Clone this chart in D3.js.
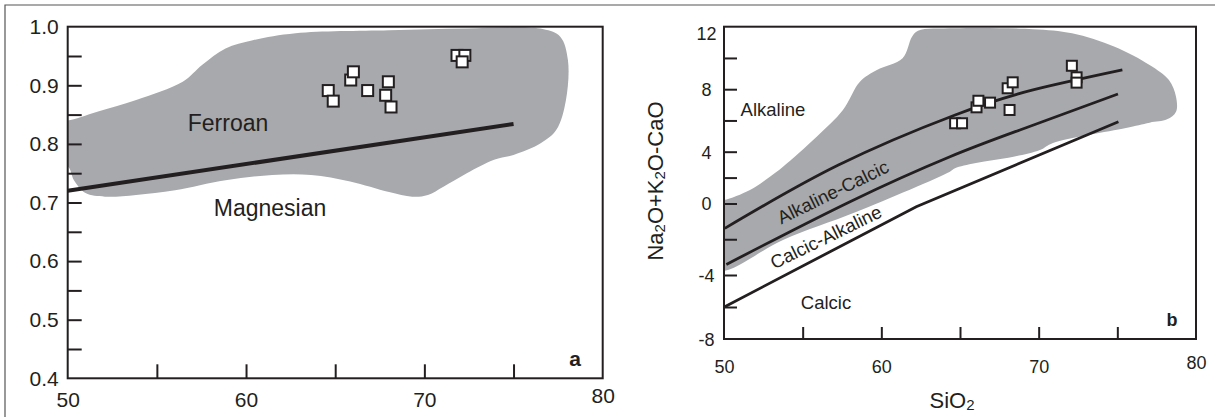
<!DOCTYPE html>
<html>
<head>
<meta charset="utf-8">
<script src="https://cdn.jsdelivr.net/npm/d3@7"></script>
<style>
    body { margin: 0; background: #fff; }
    svg { display: block; font-family: "Liberation Sans", Arial, sans-serif; }
</style>
</head>
<body>
<script>

// ---- panel a : FeO/(FeO+MgO) vs SiO2 ----
var xTicksA = [55, 60, 65, 70, 75];
var xLabelsA = [50, 60, 70, 80];
var yTicksA = [0.45, 0.5, 0.55, 0.6, 0.65, 0.7, 0.75, 0.8, 0.85, 0.9, 0.95];
var yLabelsA = [0.4, 0.5, 0.6, 0.7, 0.8, 0.9, 1.0];

var fieldA = [ // grey field
    [49.5, 0.840], [50, 0.840], [51.66, 0.855], [53.84, 0.875], [56.45, 0.906],
    [57.55, 0.935], [58.85, 0.963], [60.38, 0.977], [62.78, 0.989], [68.02, 0.994],
    [72.38, 0.997], [76.64, 0.996], [77.62, 0.983], [78.05, 0.943], [77.94, 0.875],
    [77.40, 0.824], [76.52, 0.801], [75.0, 0.781], [73.91, 0.773], [72.38, 0.750],
    [71.07, 0.727], [70.2, 0.713], [69.32, 0.710], [68.02, 0.718], [65.84, 0.736],
    [63.65, 0.747], [61.47, 0.747], [58.85, 0.738], [56.02, 0.721], [53.84, 0.713],
    [52.09, 0.710], [51.0, 0.716], [50.35, 0.738], [50.02, 0.761], [49.5, 0.761]
];

var boundaryA = [[50, 0.720], [75, 0.834]]; // ferroan / magnesian

var samplesA = [
    [64.61, 0.891], [64.89, 0.873], [65.87, 0.909], [66.02, 0.923], [66.82, 0.891],
    [67.98, 0.906], [67.83, 0.883], [68.13, 0.863], [71.83, 0.951], [72.27, 0.951],
    [72.12, 0.940]
];

// ---- panel b : MALI vs SiO2 ----
var xTicksB = [55, 60, 65, 70, 75];
var xLabelsB = [50, 60, 70, 80];
var yTicksB = [-6, -4, -2, 0, 2, 4, 6, 8, 10];
var yLabelsB = [-8, -4, 0, 4, 8, 12];

var fieldB = [
    [49.5, 0.27], [50, 0.27], [51.65, 1.04], [52.92, 2.07], [53.75, 2.84],
    [55.89, 4.96], [57.56, 6.67], [58.64, 8.48], [59.72, 9.23], [61.35, 9.98],
    [61.95, 11.36], [62.33, 11.74], [64.68, 11.9], [69.64, 11.84], [72.12, 11.58],
    [74.83, 10.72], [77.05, 9.55], [78.28, 8.59], [78.73, 7.52], [78.73, 6.56],
    [78.16, 6.07], [77.05, 5.86], [75.55, 5.52], [70.91, 4.56], [70.08, 4.11],
    [68.40, 3.61], [67.16, 3.36], [65.93, 3.10], [64.68, 2.72], [64.36, 2.46],
    [58.43, -0.46], [53.75, -2.04], [50.25, -3.72], [49.5, -3.72]
];

var alkalicLine = [[50.05, -1.39], [57.27, 2.97], [64.69, 6.35], [69.64, 7.95], [75.32, 9.23]];
var calcAlkLine = [[50.15, -3.41], [58.01, 0.14], [64.36, 3.61], [68.81, 5.39], [75.04, 7.69]];
var calcicLine = [[50.05, -5.98], [62.22, -0.18], [75.07, 5.92]];

var samplesB = [
    [64.69, 5.82], [65.13, 5.82], [66.05, 6.84], [66.17, 7.26], [66.91, 7.14],
    [68.03, 8.06], [68.35, 8.44], [68.15, 6.67], [72.11, 9.50], [72.41, 8.76],
    [72.41, 8.42]
];

var ink = "#231f20";
var grey = "#a7a9ac";
var font = "'Liberation Sans', Arial, sans-serif";

var svg = d3.select("body")
    .append("svg")
    .attr("width", 1215)
    .attr("height", 417);

svg.append("rect")
    .attr("width", 1215)
    .attr("height", 417)
    .attr("fill", "#fff");

// figure border (only top and left are in the crop)
svg.append("path")
    .attr("d", "M5,417V5H1215")
    .attr("fill", "none")
    .attr("stroke", "#555")
    .attr("stroke-width", 1.2);

var xA = d3.scaleLinear().domain([50, 80]).range([67.7, 602.7]);
var yA = d3.scaleLinear().domain([0.4, 1.0]).range([378.3, 26.7]);
var xB = d3.scaleLinear().domain([50, 80]).range([724, 1196]);
// the printed y axis of b is not evenly spaced
var yB = d3.scaleLinear().domain([-8, -4, 0, 4, 12]).range([339, 275, 203.5, 151.7, 26.7]);

var defs = svg.append("defs");

var panel = function (id, x, y) {
    defs.append("clipPath")
        .attr("id", id)
        .append("rect")
        .attr("x", x.range()[0])
        .attr("y", y.range()[y.range().length - 1])
        .attr("width", x.range()[1] - x.range()[0])
        .attr("height", y.range()[0] - y.range()[y.range().length - 1]);
    return svg.append("g").attr("clip-path", "url(#" + id + ")");
};

var square = function (g, data, x, y, size) {
    g.selectAll("rect.sample")
        .data(data)
        .enter()
        .append("rect")
        .attr("class", "sample")
        .attr("x", function (d) { return x(d[0]) - size / 2; })
        .attr("y", function (d) { return y(d[1]) - size / 2; })
        .attr("width", size)
        .attr("height", size)
        .attr("fill", "#fff")
        .attr("stroke", ink)
        .attr("stroke-width", 2);
};

var frame = function (x, y) {
    var r = y.range();
    svg.append("rect")
        .attr("x", x.range()[0])
        .attr("y", r[r.length - 1])
        .attr("width", x.range()[1] - x.range()[0])
        .attr("height", r[0] - r[r.length - 1])
        .attr("fill", "none")
        .attr("stroke", ink)
        .attr("stroke-width", 2);
};

var styleAxis = function (g, size) {
    g.attr("font-family", font);
    g.select(".domain").remove();
    g.selectAll("line").attr("stroke", ink).attr("stroke-width", 2);
    g.selectAll("text")
        .attr("fill", ink)
        .style("font-size", size + "px");
};

var plain = function (d) { return String(d); };

// ---------- panel a ----------
var gA = panel("clipA", xA, yA);

gA.append("path")
    .datum(fieldA)
    .attr("d", d3.line()
        .x(function (d) { return xA(d[0]); })
        .y(function (d) { return yA(d[1]); })
        .curve(d3.curveCatmullRomClosed.alpha(0.5)))
    .attr("fill", grey);

gA.append("path")
    .datum(boundaryA)
    .attr("d", d3.line()
        .x(function (d) { return xA(d[0]); })
        .y(function (d) { return yA(d[1]); }))
    .attr("fill", "none")
    .attr("stroke", ink)
    .attr("stroke-width", 4);

square(gA, samplesA, xA, yA, 11);

svg.append("g")
    .attr("transform", "translate(" + xA(50) + ",0)")
    .call(d3.axisLeft(yA).tickValues(yTicksA).tickSizeInner(-14).tickSizeOuter(0).tickFormat(""))
    .call(styleAxis, 21);

svg.append("g")
    .attr("transform", "translate(" + xA(50) + ",0)")
    .call(d3.axisLeft(yA).tickValues(yLabelsA).tickSize(0).tickPadding(9).tickFormat(d3.format(".1f")))
    .call(styleAxis, 21);

svg.append("g")
    .attr("transform", "translate(0," + yA(0.4) + ")")
    .call(d3.axisBottom(xA).tickValues(xTicksA).tickSizeInner(-14).tickSizeOuter(0).tickFormat(""))
    .call(styleAxis, 21);

svg.append("g")
    .attr("transform", "translate(0," + yA(0.4) + ")")
    .call(d3.axisBottom(xA).tickValues(xLabelsA).tickSize(0).tickPadding(14).tickFormat(plain))
    .call(styleAxis, 21)
    .call(function (g) {
        g.selectAll("text").attr("transform", function (d) { return d === 80 ? "translate(0,-4)" : null; });
    });

frame(xA, yA);

svg.append("text")
    .attr("x", 228)
    .attr("y", 123)
    .attr("text-anchor", "middle")
    .attr("dominant-baseline", "central")
    .attr("fill", ink)
    .style("font-size", "23px")
    .text("Ferroan");

svg.append("text")
    .attr("x", 270)
    .attr("y", 208)
    .attr("text-anchor", "middle")
    .attr("dominant-baseline", "central")
    .attr("fill", ink)
    .style("font-size", "23px")
    .text("Magnesian");

svg.append("text")
    .attr("x", 575)
    .attr("y", 358)
    .attr("text-anchor", "middle")
    .attr("dominant-baseline", "central")
    .attr("fill", ink)
    .style("font-size", "21px")
    .style("font-weight", "bold")
    .text("a");

// ---------- panel b ----------
var gB = panel("clipB", xB, yB);

var lineB = d3.line()
    .x(function (d) { return xB(d[0]); })
    .y(function (d) { return yB(d[1]); });

gB.append("path")
    .datum(fieldB)
    .attr("d", lineB.curve(d3.curveCatmullRomClosed.alpha(0.5)))
    .attr("fill", grey);

lineB.curve(d3.curveNatural);

gB.selectAll("path.boundary")
    .data([alkalicLine, calcAlkLine, calcicLine])
    .enter()
    .append("path")
    .attr("class", "boundary")
    .attr("d", function (d) {
        // the calcic boundary is drawn as two straight segments
        return d === calcicLine ? lineB.curve(d3.curveLinear)(d) : lineB.curve(d3.curveNatural)(d);
    })
    .attr("fill", "none")
    .attr("stroke", ink)
    .attr("stroke-width", 2.8);

square(gB, samplesB, xB, yB, 10);

svg.append("g")
    .attr("transform", "translate(" + xB(50) + ",0)")
    .call(d3.axisLeft(yB).tickValues(yTicksB).tickSizeInner(-13).tickSizeOuter(0).tickFormat(""))
    .call(styleAxis, 18);

svg.append("g")
    .attr("transform", "translate(" + xB(50) + ",0)")
    .call(d3.axisLeft(yB).tickValues(yLabelsB).tickSize(0).tickPadding(0).tickFormat(plain))
    .call(styleAxis, 18)
    .call(function (g) {
        g.selectAll("text")
            .attr("x", -17.5)
            .attr("text-anchor", "middle")
            .attr("dy", function (d) { return d === 12 ? "0.72em" : "0.35em"; });
    });

svg.append("g")
    .attr("transform", "translate(0," + yB(-8) + ")")
    .call(d3.axisBottom(xB).tickValues(xTicksB).tickSizeInner(-12).tickSizeOuter(0).tickFormat(""))
    .call(styleAxis, 18);

svg.append("g")
    .attr("transform", "translate(0," + yB(-8) + ")")
    .call(d3.axisBottom(xB).tickValues(xLabelsB).tickSize(0).tickPadding(21).tickFormat(plain))
    .call(styleAxis, 18)
    .call(function (g) {
        g.selectAll("text").attr("transform", function (d) { return d === 80 ? "translate(0,-4)" : null; });
    });

frame(xB, yB);

var labelsB = [
    { text: "Alkaline", x: 773, y: 109, angle: 0 },
    { text: "Alkaline-Calcic", x: 833, y: 192, angle: -26 },
    { text: "Calcic-Alkaline", x: 826, y: 237, angle: -26 },
    { text: "Calcic", x: 826, y: 302, angle: 0 }
];

svg.selectAll("text.field")
    .data(labelsB)
    .enter()
    .append("text")
    .attr("class", "field")
    .attr("transform", function (d) {
        return "translate(" + d.x + "," + d.y + ") rotate(" + d.angle + ")";
    })
    .attr("text-anchor", "middle")
    .attr("dominant-baseline", "central")
    .attr("fill", ink)
    .style("font-size", "18.5px")
    .text(function (d) { return d.text; });

svg.append("text")
    .attr("x", 1172)
    .attr("y", 320)
    .attr("text-anchor", "middle")
    .attr("dominant-baseline", "central")
    .attr("fill", ink)
    .style("font-size", "18px")
    .style("font-weight", "bold")
    .text("b");

// axis titles with subscripts
var title = function (sel, parts) {
    parts.forEach(function (p) {
        sel.append("tspan")
            .style("font-size", p.sub ? "15px" : "22px")
            .attr("dy", p.sub ? 2 : (p.after ? -2 : 0))
            .text(p.t);
    });
};

var xTitle = svg.append("text")
    .attr("x", 952)
    .attr("y", 408)
    .attr("text-anchor", "middle")
    .attr("fill", ink);
title(xTitle, [{ t: "SiO" }, { t: "2", sub: true }]);

var yTitle = svg.append("text")
    .attr("transform", "translate(663,181) rotate(-90)")
    .attr("text-anchor", "middle")
    .attr("fill", ink);
title(yTitle, [
    { t: "Na" }, { t: "2", sub: true }, { t: "O+K", after: true },
    { t: "2", sub: true }, { t: "O-CaO", after: true }
]);

</script>
</body>
</html>
